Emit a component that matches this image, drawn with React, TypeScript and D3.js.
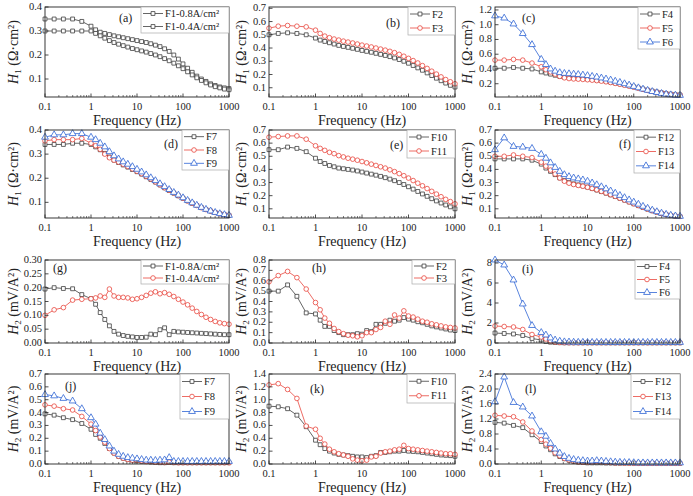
import * as d3 from 'd3'

// frequency sweep, 5 pts/decade below 1 Hz, 10 pts/decade above
const freq = [
  0.1, 0.158, 0.251, 0.398, 0.631, 1,
  1.259, 1.585, 1.995, 2.512, 3.162, 3.981, 5.012, 6.31, 7.943, 10,
  12.59, 15.85, 19.95, 25.12, 31.62, 39.81, 50.12, 63.1, 79.43, 100,
  125.9, 158.5, 199.5, 251.2, 316.2, 398.1, 501.2, 631, 794.3, 1000,
]
const freqTicks = [0.1, 1, 10, 100, 1000]
const freqTickLabels = ['0.1', '1', '10', '100', '1000']

// H1 (Ω·cm²)
const F1_08_H1 = [
  0.35, 0.35, 0.35, 0.35, 0.34, 0.32,
  0.305, 0.295, 0.29, 0.285, 0.28, 0.276, 0.272, 0.268, 0.264, 0.26,
  0.256, 0.252, 0.247, 0.241, 0.235, 0.226, 0.215, 0.2, 0.183, 0.163,
  0.145, 0.128, 0.112, 0.1, 0.09, 0.08, 0.073, 0.067, 0.063, 0.06,
]
const F1_04_H1 = [
  0.3, 0.3, 0.3, 0.3, 0.3, 0.3,
  0.29, 0.28, 0.27, 0.26, 0.252, 0.245, 0.239, 0.233, 0.227, 0.222,
  0.217, 0.212, 0.206, 0.2, 0.193, 0.185, 0.176, 0.166, 0.155, 0.143,
  0.13, 0.117, 0.105, 0.094, 0.084, 0.075, 0.068, 0.063, 0.058, 0.055,
]
const F2_H1 = [
  0.5, 0.51, 0.515, 0.51, 0.5, 0.475,
  0.46, 0.45, 0.44, 0.43, 0.42, 0.412, 0.405, 0.398, 0.39, 0.382,
  0.375, 0.368, 0.36, 0.352, 0.344, 0.335, 0.325, 0.313, 0.3, 0.285,
  0.268, 0.25, 0.232, 0.212, 0.192, 0.172, 0.153, 0.135, 0.118, 0.105,
]
const F3_H1 = [
  0.55, 0.565, 0.57, 0.565, 0.56, 0.535,
  0.51, 0.49, 0.478, 0.468, 0.46, 0.452, 0.445, 0.438, 0.43, 0.422,
  0.415, 0.408, 0.4, 0.392, 0.384, 0.375, 0.365, 0.352, 0.338, 0.322,
  0.305, 0.287, 0.267, 0.246, 0.225, 0.203, 0.182, 0.162, 0.145, 0.13,
]
const F4_H1 = [
  0.41, 0.41, 0.42, 0.41, 0.4, 0.36,
  0.345, 0.33, 0.315, 0.3, 0.29, 0.285, 0.28, 0.275, 0.27, 0.265,
  0.258, 0.25, 0.242, 0.232, 0.222, 0.21, 0.198, 0.185, 0.172, 0.158,
  0.143, 0.128, 0.113, 0.1, 0.087, 0.076, 0.066, 0.058, 0.052, 0.048,
]
const F5_H1 = [
  0.52, 0.52, 0.53, 0.52, 0.48, 0.43,
  0.39, 0.36, 0.33, 0.3, 0.28, 0.27, 0.265, 0.262, 0.258, 0.254,
  0.248, 0.242, 0.235, 0.226, 0.216, 0.205, 0.193, 0.18, 0.167, 0.153,
  0.139, 0.124, 0.11, 0.097, 0.085, 0.074, 0.064, 0.056, 0.05, 0.046,
]
const F6_H1 = [
  1.12, 1.09, 1.01, 0.88, 0.73, 0.53,
  0.46, 0.4, 0.37, 0.35, 0.34, 0.335, 0.33, 0.325, 0.318, 0.31,
  0.3, 0.29, 0.278, 0.264, 0.25, 0.234, 0.218, 0.2, 0.182, 0.163,
  0.145, 0.127, 0.11, 0.094, 0.08, 0.068, 0.058, 0.05, 0.045, 0.042,
]
const F7_H1 = [
  0.34, 0.34, 0.34, 0.345, 0.345, 0.34,
  0.33, 0.318, 0.303, 0.288, 0.275, 0.265, 0.255, 0.246, 0.236, 0.227,
  0.217, 0.206, 0.195, 0.184, 0.172, 0.16, 0.149, 0.138, 0.127, 0.117,
  0.106, 0.096, 0.087, 0.078, 0.07, 0.064, 0.058, 0.053, 0.049, 0.046,
]
const F8_H1 = [
  0.355, 0.36, 0.36, 0.36, 0.365, 0.345,
  0.335, 0.32, 0.3, 0.285, 0.275, 0.267, 0.258, 0.249, 0.239, 0.229,
  0.219, 0.208, 0.197, 0.185, 0.173, 0.161, 0.15, 0.139, 0.128, 0.117,
  0.106, 0.096, 0.087, 0.078, 0.07, 0.064, 0.058, 0.053, 0.049, 0.046,
]
const F9_H1 = [
  0.37, 0.38, 0.38, 0.385, 0.385, 0.37,
  0.36, 0.345, 0.33, 0.31, 0.293, 0.28, 0.268, 0.258, 0.248, 0.237,
  0.226, 0.214, 0.202, 0.19, 0.177, 0.165, 0.153, 0.141, 0.13, 0.119,
  0.108, 0.098, 0.088, 0.079, 0.071, 0.064, 0.058, 0.053, 0.049, 0.046,
]
const F10_H1 = [
  0.55, 0.55, 0.57, 0.56, 0.535, 0.485,
  0.46, 0.445, 0.43, 0.42, 0.41, 0.405, 0.4, 0.395, 0.388, 0.38,
  0.372, 0.364, 0.356, 0.347, 0.337, 0.326, 0.314, 0.3, 0.285, 0.268,
  0.25, 0.232, 0.213, 0.195, 0.177, 0.16, 0.144, 0.129, 0.115, 0.1,
]
const F11_H1 = [
  0.645, 0.65, 0.655, 0.655, 0.63, 0.58,
  0.56, 0.545, 0.53, 0.52, 0.505, 0.495, 0.485, 0.478, 0.47, 0.46,
  0.45, 0.44, 0.43, 0.42, 0.41, 0.397, 0.383, 0.368, 0.352, 0.334,
  0.315, 0.295, 0.275, 0.254, 0.233, 0.212, 0.192, 0.172, 0.155, 0.138,
]
const F12_H1 = [
  0.48, 0.48, 0.48, 0.48, 0.47, 0.44,
  0.41, 0.385, 0.36, 0.335, 0.315, 0.3, 0.29, 0.282, 0.274, 0.265,
  0.254, 0.243, 0.231, 0.219, 0.206, 0.193, 0.18, 0.166, 0.152, 0.138,
  0.124, 0.11, 0.097, 0.085, 0.074, 0.064, 0.056, 0.049, 0.044, 0.041,
]
const F13_H1 = [
  0.5, 0.5, 0.51, 0.5, 0.49, 0.455,
  0.425, 0.395, 0.365, 0.335, 0.31, 0.295, 0.285, 0.278, 0.272, 0.264,
  0.255, 0.245, 0.233, 0.221, 0.208, 0.195, 0.181, 0.167, 0.153, 0.139,
  0.125, 0.111, 0.098, 0.086, 0.075, 0.065, 0.057, 0.05, 0.045, 0.042,
]
const F14_H1 = [
  0.55, 0.64, 0.575, 0.57, 0.56, 0.515,
  0.485, 0.45, 0.415, 0.385, 0.36, 0.345, 0.335, 0.328, 0.32, 0.31,
  0.297, 0.283, 0.268, 0.252, 0.236, 0.219, 0.202, 0.185, 0.168, 0.151,
  0.135, 0.119, 0.104, 0.09, 0.078, 0.067, 0.058, 0.051, 0.046, 0.043,
]

// H2 (mV/A²)
const F1_08_H2 = [
  0.195, 0.2, 0.197, 0.196, 0.175, 0.16,
  0.14, 0.11, 0.085, 0.062, 0.042, 0.032, 0.027, 0.024, 0.022, 0.02,
  0.02, 0.021, 0.032, 0.03, 0.048, 0.055, 0.03, 0.042, 0.04, 0.039,
  0.038, 0.037, 0.036, 0.035, 0.034, 0.033, 0.032, 0.031, 0.03, 0.03,
]
const F1_04_H2 = [
  0.1, 0.12, 0.128, 0.155, 0.158, 0.16,
  0.163, 0.17, 0.165, 0.195, 0.17, 0.165, 0.165, 0.163, 0.158, 0.16,
  0.165, 0.172, 0.18, 0.185, 0.178, 0.182, 0.176, 0.168, 0.158, 0.148,
  0.138, 0.126, 0.114, 0.103, 0.093, 0.085, 0.078, 0.073, 0.07, 0.068,
]
const F2_H2 = [
  0.5, 0.5, 0.56, 0.45, 0.29, 0.28,
  0.22, 0.16, 0.16, 0.12, 0.1, 0.08, 0.08, 0.08, 0.09, 0.085,
  0.12, 0.11, 0.18, 0.18, 0.19, 0.22, 0.21, 0.22, 0.245, 0.23,
  0.22, 0.205, 0.195, 0.18, 0.165, 0.155, 0.145, 0.135, 0.125, 0.12,
]
const F3_H2 = [
  0.59, 0.65, 0.69, 0.63, 0.52, 0.39,
  0.32, 0.24, 0.19, 0.14, 0.11, 0.09, 0.075, 0.07, 0.06, 0.07,
  0.1, 0.1, 0.13, 0.15, 0.21, 0.18, 0.27, 0.24, 0.31, 0.26,
  0.25, 0.23, 0.21, 0.2, 0.185, 0.175, 0.165, 0.155, 0.15, 0.145,
]
const F4_H2 = [
  1.0, 0.95, 0.9, 0.75, 0.45, 0.3,
  0.15, 0.08, 0.05, 0.03, 0.02, 0.02, 0.02, 0.02, 0.02, 0.02,
  0.02, 0.02, 0.02, 0.02, 0.02, 0.02, 0.02, 0.02, 0.02, 0.02,
  0.02, 0.02, 0.02, 0.02, 0.02, 0.02, 0.02, 0.02, 0.02, 0.02,
]
const F5_H2 = [
  1.7, 1.65, 1.6, 1.35, 0.85, 0.6,
  0.4, 0.2, 0.1, 0.06, 0.04, 0.03, 0.03, 0.03, 0.03, 0.03,
  0.03, 0.03, 0.03, 0.03, 0.03, 0.03, 0.03, 0.03, 0.03, 0.03,
  0.03, 0.03, 0.03, 0.03, 0.03, 0.03, 0.03, 0.03, 0.03, 0.03,
]
const F6_H2 = [
  8.3, 7.8, 6.3, 3.9, 1.75, 1.05,
  0.8, 0.5, 0.3, 0.18, 0.12, 0.1, 0.08, 0.07, 0.07, 0.06,
  0.06, 0.06, 0.06, 0.06, 0.06, 0.06, 0.06, 0.06, 0.06, 0.06,
  0.06, 0.06, 0.06, 0.06, 0.06, 0.06, 0.06, 0.06, 0.06, 0.06,
]
const F7_H2 = [
  0.39, 0.38, 0.36, 0.345, 0.315, 0.27,
  0.23, 0.2, 0.16, 0.12, 0.085, 0.06, 0.045, 0.035, 0.03, 0.025,
  0.02, 0.018, 0.015, 0.012, 0.01, 0.01, 0.012, 0.01, 0.01, 0.01,
  0.01, 0.01, 0.01, 0.01, 0.01, 0.01, 0.01, 0.01, 0.01, 0.01,
]
const F8_H2 = [
  0.46, 0.45, 0.43, 0.42, 0.37, 0.31,
  0.26, 0.21, 0.17, 0.12, 0.085, 0.06, 0.045, 0.035, 0.03, 0.03,
  0.025, 0.02, 0.02, 0.015, 0.015, 0.012, 0.015, 0.012, 0.01, 0.01,
  0.01, 0.01, 0.01, 0.01, 0.01, 0.01, 0.01, 0.01, 0.01, 0.01,
]
const F9_H2 = [
  0.54, 0.53, 0.51, 0.49, 0.43, 0.36,
  0.31, 0.24, 0.19, 0.14, 0.1, 0.075, 0.06, 0.05, 0.045, 0.04,
  0.035, 0.03, 0.03, 0.028, 0.03, 0.032, 0.05, 0.02, 0.02, 0.02,
  0.02, 0.02, 0.02, 0.02, 0.02, 0.02, 0.02, 0.02, 0.02, 0.02,
]
const F10_H2 = [
  0.9, 0.89, 0.86, 0.76, 0.58, 0.37,
  0.3, 0.24, 0.2, 0.17, 0.15, 0.14, 0.13, 0.12, 0.11, 0.11,
  0.1, 0.12, 0.13, 0.18, 0.18, 0.19, 0.2, 0.2, 0.21, 0.2,
  0.195, 0.19, 0.18, 0.17, 0.16, 0.15, 0.14, 0.135, 0.13, 0.12,
]
const F11_H2 = [
  1.23, 1.25, 1.16, 1.02, 0.59, 0.54,
  0.4, 0.31, 0.23, 0.19, 0.16, 0.14, 0.12, 0.08, 0.06, 0.05,
  0.06, 0.11, 0.12, 0.17, 0.19, 0.2, 0.22, 0.23, 0.29, 0.24,
  0.23, 0.22, 0.21, 0.2, 0.19, 0.18, 0.17, 0.16, 0.16, 0.15,
]
const F12_H2 = [
  1.11, 1.09, 1.03, 0.97, 0.78, 0.6,
  0.48, 0.38, 0.27, 0.2, 0.14, 0.1, 0.07, 0.05, 0.04, 0.03,
  0.03, 0.03, 0.03, 0.025, 0.025, 0.02, 0.02, 0.02, 0.02, 0.02,
  0.02, 0.02, 0.02, 0.02, 0.02, 0.02, 0.02, 0.02, 0.02, 0.02,
]
const F13_H2 = [
  1.3, 1.28, 1.26, 1.12, 0.88, 0.65,
  0.53, 0.42, 0.3, 0.22, 0.15, 0.11, 0.08, 0.06, 0.05, 0.05,
  0.06, 0.07, 0.06, 0.05, 0.04, 0.03, 0.03, 0.025, 0.025, 0.02,
  0.02, 0.02, 0.02, 0.02, 0.02, 0.02, 0.02, 0.02, 0.02, 0.02,
]
const F14_H2 = [
  1.66, 2.32, 1.64, 1.52, 1.28, 0.86,
  0.74, 0.55, 0.4, 0.29, 0.2, 0.15, 0.12, 0.1, 0.09, 0.08,
  0.08, 0.09, 0.08, 0.07, 0.06, 0.05, 0.045, 0.04, 0.04, 0.035,
  0.03, 0.03, 0.03, 0.03, 0.03, 0.03, 0.03, 0.03, 0.03, 0.03,
]

type Mark = 'sq' | 'ci' | 'tr'
const MARKS: Record<Mark, { color: string; sym: d3.SymbolType; size: number }> = {
  sq: { color: '#3f3f3f', sym: d3.symbolSquare, size: 15 },
  ci: { color: '#e8463e', sym: d3.symbolCircle, size: 17 },
  tr: { color: '#2f64d4', sym: d3.symbolTriangle, size: 20 },
}

// plot frames (px)
const cols: [number, number][] = [[45, 229], [269, 455], [495, 680]]
const rows: [number, number][] = [[7, 97], [130, 218], [260, 343], [374, 464]]
const yTitleX = [18, 246, 472]

interface PanelDef {
  tag: string
  tagPos: [number, number]
  col: number
  row: number
  yDomain: [number, number]
  yTicks: number[]
  yFmt: string
  kind: 'H1' | 'H2'
  series: [string, number[], Mark][]
  legend: [number, number] // width, height
}

const panels: PanelDef[] = [
  { tag: '(a)', tagPos: [119, 22], col: 0, row: 0, yDomain: [0.025, 0.4], yTicks: [0.1, 0.2, 0.3, 0.4], yFmt: '.1f', kind: 'H1',
    series: [['F1-0.8A/cm²', F1_08_H1, 'sq'], ['F1-0.4A/cm²', F1_04_H1, 'sq']], legend: [88, 26] },
  { tag: '(b)', tagPos: [386, 27], col: 1, row: 0, yDomain: [0.03, 0.71], yTicks: [0.1, 0.2, 0.3, 0.4, 0.5, 0.6, 0.7], yFmt: '.1f', kind: 'H1',
    series: [['F2', F2_H1, 'sq'], ['F3', F3_H1, 'ci']], legend: [47, 28] },
  { tag: '(c)', tagPos: [522, 22], col: 2, row: 0, yDomain: [0.02, 1.24], yTicks: [0.2, 0.4, 0.6, 0.8, 1.0, 1.2], yFmt: '.1f', kind: 'H1',
    series: [['F4', F4_H1, 'sq'], ['F5', F5_H1, 'ci'], ['F6', F6_H1, 'tr']], legend: [42, 42] },
  { tag: '(d)', tagPos: [164, 148], col: 0, row: 1, yDomain: [0.035, 0.4], yTicks: [0.1, 0.2, 0.3, 0.4], yFmt: '.1f', kind: 'H1',
    series: [['F7', F7_H1, 'sq'], ['F8', F8_H1, 'ci'], ['F9', F9_H1, 'tr']], legend: [47, 40] },
  { tag: '(e)', tagPos: [390, 149], col: 1, row: 1, yDomain: [0.03, 0.7], yTicks: [0.1, 0.2, 0.3, 0.4, 0.5, 0.6, 0.7], yFmt: '.1f', kind: 'H1',
    series: [['F10', F10_H1, 'sq'], ['F11', F11_H1, 'ci']], legend: [48, 28] },
  { tag: '(f)', tagPos: [619, 148], col: 2, row: 1, yDomain: [0.03, 0.7], yTicks: [0.1, 0.2, 0.3, 0.4, 0.5, 0.6, 0.7], yFmt: '.1f', kind: 'H1',
    series: [['F12', F12_H1, 'sq'], ['F13', F13_H1, 'ci'], ['F14', F14_H1, 'tr']], legend: [46, 43] },
  { tag: '(g)', tagPos: [53, 272], col: 0, row: 2, yDomain: [0, 0.3], yTicks: [0, 0.05, 0.1, 0.15, 0.2, 0.25, 0.3], yFmt: '.2f', kind: 'H2',
    series: [['F1-0.8A/cm²', F1_08_H2, 'sq'], ['F1-0.4A/cm²', F1_04_H2, 'ci']], legend: [88, 24] },
  { tag: '(h)', tagPos: [312, 272], col: 1, row: 2, yDomain: [0, 0.8], yTicks: [0, 0.1, 0.2, 0.3, 0.4, 0.5, 0.6, 0.7, 0.8], yFmt: '.1f', kind: 'H2',
    series: [['F2', F2_H2, 'sq'], ['F3', F3_H2, 'ci']], legend: [43, 24] },
  { tag: '(i)', tagPos: [522, 273], col: 2, row: 2, yDomain: [0, 8.3], yTicks: [0, 2, 4, 6, 8], yFmt: 'd', kind: 'H2',
    series: [['F4', F4_H2, 'sq'], ['F5', F5_H2, 'ci'], ['F6', F6_H2, 'tr']], legend: [45, 39] },
  { tag: '(j)', tagPos: [65, 390], col: 0, row: 3, yDomain: [0, 0.7], yTicks: [0, 0.1, 0.2, 0.3, 0.4, 0.5, 0.6, 0.7], yFmt: '.1f', kind: 'H2',
    series: [['F7', F7_H2, 'sq'], ['F8', F8_H2, 'ci'], ['F9', F9_H2, 'tr']], legend: [49, 45] },
  { tag: '(k)', tagPos: [310, 393], col: 1, row: 3, yDomain: [0, 1.4], yTicks: [0, 0.2, 0.4, 0.6, 0.8, 1.0, 1.2, 1.4], yFmt: '.1f', kind: 'H2',
    series: [['F10', F10_H2, 'sq'], ['F11', F11_H2, 'ci']], legend: [48, 29] },
  { tag: '(l)', tagPos: [525, 393], col: 2, row: 3, yDomain: [0, 2.4], yTicks: [0, 0.4, 0.8, 1.2, 1.6, 2.0, 2.4], yFmt: '.1f', kind: 'H2',
    series: [['F12', F12_H2, 'sq'], ['F13', F13_H2, 'ci'], ['F14', F14_H2, 'tr']], legend: [49, 45] },
]

const FONT = "'Liberation Serif', 'DejaVu Serif', 'Times New Roman', serif"
const txt = { fontFamily: FONT }
const TICK_FS = 10.5

function Panel({ p }: { p: PanelDef }) {
  const [x0, x1] = cols[p.col]
  const [y0, y1] = rows[p.row]
  const x = d3.scaleLog().domain([0.1, 1000]).range([x0, x1])
  const y = d3.scaleLinear().domain(p.yDomain).range([y1, y0])
  const line = d3
    .line<number>()
    .x((_, i) => x(freq[i]))
    .y(d => y(d))
  const fmt = d3.format(p.yFmt)
  const minor: number[] = []
  for (let e = -1; e < 3; e++) for (let k = 2; k < 10; k++) minor.push(k * Math.pow(10, e))

  const [lw, lh] = p.legend
  const lx = x1 - lw
  const rowH = lh / p.series.length

  return (
    <g>
      {/* series */}
      {p.series.map(([name, vals, m]) => {
        const st = MARKS[m]
        const sym = d3.symbol().type(st.sym).size(st.size)()!
        return (
          <g key={name + p.tag}>
            <path d={line(vals)!} fill="none" stroke={st.color} strokeWidth={0.8} />
            {vals.map((v, i) => (
              <path
                key={i}
                d={sym}
                transform={`translate(${x(freq[i])},${y(v)})`}
                fill="white"
                stroke={st.color}
                strokeWidth={0.8}
              />
            ))}
          </g>
        )
      })}

      {/* frame */}
      <rect x={x0} y={y0} width={x1 - x0} height={y1 - y0} fill="none" stroke="#222" strokeWidth={0.9} />

      {/* x ticks */}
      {freqTicks.map((t, i) => (
        <g key={'xt' + t}>
          <line x1={x(t)} x2={x(t)} y1={y1} y2={y1 - 3.5} stroke="#222" strokeWidth={0.8} />
          <text x={x(t)} y={y1 + 13} textAnchor="middle" fontSize={TICK_FS} style={txt} fill="#222">
            {freqTickLabels[i]}
          </text>
        </g>
      ))}
      {minor.map(t => (
        <line key={'xm' + t} x1={x(t)} x2={x(t)} y1={y1} y2={y1 - 2} stroke="#222" strokeWidth={0.6} />
      ))}
      <text x={(x0 + x1) / 2} y={y1 + 28} textAnchor="middle" fontSize={14} style={txt} fill="#222">
        Frequency (Hz)
      </text>

      {/* y ticks */}
      {p.yTicks.map(t => (
        <g key={'yt' + t}>
          <line x1={x0} x2={x0 + 3.5} y1={y(t)} y2={y(t)} stroke="#222" strokeWidth={0.8} />
          <text x={x0 - 3} y={y(t) + 3} textAnchor="end" fontSize={TICK_FS} style={txt} fill="#222">
            {fmt(t)}
          </text>
        </g>
      ))}
      <text
        transform={`translate(${yTitleX[p.col]},${(y0 + y1) / 2}) rotate(-90)`}
        textAnchor="middle"
        fontSize={14}
        style={txt}
        fill="#222"
      >
        <tspan fontStyle="italic">H</tspan>
        <tspan fontSize={9} dy={3}>{p.kind === 'H1' ? '1' : '2'}</tspan>
        <tspan dy={-3}>{p.kind === 'H1' ? ' (Ω·cm²)' : ' (mV/A²)'}</tspan>
      </text>

      {/* panel tag */}
      <text x={p.tagPos[0]} y={p.tagPos[1]} fontSize={12} style={txt} fill="#222">
        {p.tag}
      </text>

      {/* legend */}
      <rect x={lx} y={y0} width={lw} height={lh} fill="white" stroke="#aaa" strokeWidth={0.7} />
      {p.series.map(([name, , m], i) => {
        const st = MARKS[m]
        const cy = y0 + rowH * (i + 0.5)
        const sym = d3.symbol().type(st.sym).size(st.size)()!
        return (
          <g key={'lg' + name + i}>
            <line x1={lx + 2} x2={lx + 22} y1={cy} y2={cy} stroke={st.color} strokeWidth={0.8} />
            <path d={sym} transform={`translate(${lx + 12},${cy})`} fill="white" stroke={st.color} strokeWidth={0.8} />
            <text x={lx + 24} y={cy + 3.5} fontSize={TICK_FS} style={txt} fill="#222">
              {name}
            </text>
          </g>
        )
      })}
    </g>
  )
}

export default function App() {
  return (
    <svg
      width={693}
      height={496}
      style={{ position: 'absolute', left: 0, top: 0, background: 'white' }}
    >
      <rect width={693} height={496} fill="white" />
      {panels.map(p => (
        <Panel key={p.tag} p={p} />
      ))}
    </svg>
  )
}
